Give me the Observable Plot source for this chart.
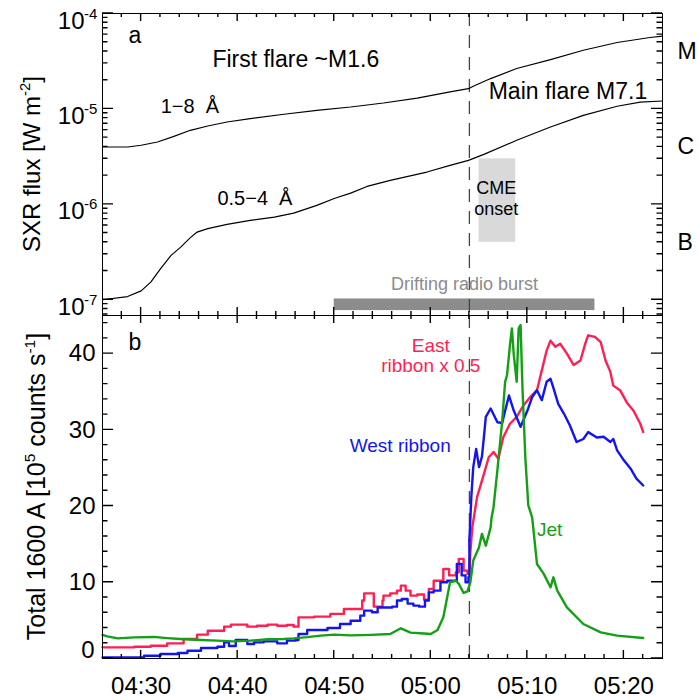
<!DOCTYPE html>
<html><head><meta charset="utf-8">
<script src="https://cdn.jsdelivr.net/npm/d3@7"></script>
<script src="https://cdn.jsdelivr.net/npm/@observablehq/plot@0.6"></script>
<style>
body{margin:0;background:#fff;}
#chart{width:698px;}
#chart svg{display:block;overflow:visible;}
</style></head><body><div id="chart"></div>
<script>
// ---- data (times in minutes after 04:00 UT) ----
const longT = [26.0, 28.6, 30.0, 31.7, 33.4, 35.1, 36.9, 38.9, 41.3, 44.8, 48.2, 51.7, 55.1, 58.6, 62.0, 63.9, 64.4, 66.2, 68.9, 72.4, 75.8, 79.3, 82.7, 84.0];
const longFlux = [3.99e-6, 3.99e-6, 4.16e-6, 4.5e-6, 5.16e-6, 5.97e-6, 6.62e-6, 7.29e-6, 7.92e-6, 8.79e-6, 9.66e-6, 1.047e-5, 1.153e-5, 1.30e-5, 1.51e-5, 1.63e-5, 1.73e-5, 2.08e-5, 2.65e-5, 3.29e-5, 4.12e-5, 4.97e-5, 5.60e-5, 5.78e-5];
const shortT = [26.0, 28.6, 30.0, 31.0, 32.0, 33.1, 34.1, 35.1, 35.8, 36.9, 38.9, 41.3, 43.8, 45.8, 48.2, 50.0, 51.7, 53.4, 55.8, 59.6, 62.0, 63.9, 65.5, 68.9, 72.4, 75.8, 79.3, 81.7, 84.0];
const shortFlux = [1.0e-7, 1.08e-7, 1.24e-7, 1.53e-7, 2.11e-7, 2.92e-7, 3.56e-7, 4.48e-7, 5.12e-7, 5.56e-7, 6.17e-7, 6.79e-7, 7.35e-7, 8.10e-7, 9.75e-7, 1.15e-6, 1.31e-6, 1.54e-6, 1.78e-6, 2.18e-6, 2.56e-6, 2.89e-6, 3.34e-6, 4.69e-6, 6.46e-6, 8.57e-6, 1.067e-5, 1.18e-5, 1.21e-5];

const eastT = [26.0, 29.3, 31.0, 32.7, 34.4, 35.8, 36.9, 38.6, 39.3, 40.6, 41.0, 42.0, 43.1, 44.1, 45.1, 45.8, 46.3, 47.9, 49.6, 51.0, 52.9, 53.1, 53.8, 54.1, 55.0, 55.1, 55.8, 56.5, 56.9, 57.4, 57.9, 58.6, 59.3, 59.8, 60.3, 61.3, 61.9, 62.6, 62.9, 63.4, 63.8, 64.0, 64.1, 64.3, 64.8, 65.5, 66.0, 66.5, 67.0, 67.5, 68.2, 68.9, 69.6, 70.3, 71.0, 71.5, 72.0, 72.4, 72.9, 73.4, 74.1, 74.8, 75.5, 76.0, 76.3, 77.0, 77.6, 78.1, 78.6, 78.9, 79.6, 80.3, 81.0, 81.7, 82.0];
const eastV = [1.46, 1.55, 1.68, 1.99, 2.56, 3.13, 3.65, 4.18, 4.44, 4.44, 4.18, 4.3, 4.44, 4.3, 4.4, 4.18, 5.4, 5.5, 5.85, 6.5, 7.6, 8.55, 8.55, 6.8, 7.6, 8.25, 8.55, 8.9, 9.56, 8.9, 8.25, 8.4, 7.72, 9.13, 10.2, 11.75, 10.9, 11.3, 13.07, 11.53, 11.1, 11.1, 14.0, 17.2, 21.2, 24.2, 26.4, 27.1, 26.2, 29.0, 30.8, 31.7, 33.2, 34.3, 35.2, 37.8, 40.4, 41.7, 40.9, 41.3, 40.0, 38.5, 39.1, 41.3, 42.4, 42.2, 41.5, 39.1, 37.6, 35.8, 35.2, 33.6, 32.5, 30.8, 29.7];

const westT = [26.0, 28.9, 30.3, 32.0, 33.8, 34.8, 36.2, 37.9, 38.6, 39.1, 39.8, 40.6, 41.0, 41.7, 42.7, 44.1, 45.1, 46.0, 46.3, 47.2, 48.2, 49.3, 50.6, 51.7, 52.7, 53.1, 53.9, 54.5, 56.0, 56.5, 57.0, 57.6, 58.2, 58.8, 59.4, 59.8, 60.3, 61.0, 61.7, 62.0, 62.7, 63.2, 63.6, 63.9, 64.0, 64.2, 64.4, 64.7, 65.0, 65.3, 65.5, 65.7, 66.2, 66.9, 67.4, 67.7, 68.1, 68.6, 69.3, 70.0, 70.5, 71.0, 71.5, 72.0, 72.4, 72.7, 73.2, 73.8, 74.4, 75.1, 75.8, 76.3, 77.2, 77.9, 78.6, 78.9, 79.3, 80.0, 80.7, 81.3, 82.0];
const westV = [0.15, 0.15, 0.37, 0.59, 0.72, 1.02, 1.38, 1.55, 2.12, 1.64, 2.43, 2.43, 1.9, 2.12, 2.25, 1.99, 2.34, 2.43, 3.21, 3.74, 3.74, 4.0, 4.53, 4.96, 5.62, 6.28, 6.06, 6.7, 6.8, 7.6, 7.8, 7.2, 6.94, 6.8, 7.6, 8.68, 8.9, 10.0, 10.2, 10.2, 12.4, 10.9, 10.0, 10.65, 15.5, 21.2, 25.1, 27.5, 25.1, 26.5, 29.0, 31.7, 32.8, 31.0, 30.9, 32.5, 34.5, 32.5, 30.4, 32.5, 34.3, 35.2, 33.9, 36.3, 36.7, 35.5, 33.4, 32.1, 30.6, 28.4, 28.8, 29.7, 29.0, 29.1, 28.4, 28.8, 27.3, 26.0, 24.9, 23.6, 22.7];

const jetT = [26.0, 26.5, 27.6, 29.3, 31.3, 32.7, 34.1, 36.2, 37.9, 39.6, 41.3, 43.1, 44.8, 45.8, 47.2, 48.6, 50.0, 51.7, 53.8, 55.8, 56.9, 57.9, 59.3, 60.0, 60.7, 61.3, 61.7, 62.0, 62.6, 62.9, 63.4, 63.8, 64.1, 64.4, 65.0, 65.3, 65.7, 66.2, 66.3, 66.5, 66.9, 67.4, 67.7, 67.9, 68.2, 68.4, 68.6, 68.9, 69.1, 69.3, 69.5, 69.8, 70.1, 70.5, 71.0, 71.7, 72.4, 72.7, 73.1, 74.1, 75.8, 77.6, 79.3, 82.0];
const jetV = [3.1, 2.9, 2.64, 2.77, 2.83, 2.68, 2.56, 2.43, 2.34, 2.25, 2.34, 2.52, 2.56, 2.64, 2.8, 3.0, 3.13, 3.04, 3.1, 3.21, 3.96, 3.4, 3.28, 3.21, 3.74, 5.4, 8.03, 10.0, 10.2, 9.8, 8.6, 8.8, 10.0, 12.85, 14.6, 16.35, 14.8, 17.2, 18.5, 19.85, 24.7, 31.2, 36.3, 37.2, 41.1, 43.3, 39.8, 36.3, 43.3, 43.75, 35.4, 26.2, 20.1, 18.5, 12.4, 11.1, 9.34, 10.65, 8.9, 6.7, 4.53, 3.43, 3.0, 2.69];

const onsetTime = [64.0];
const cmeSpan = [65.0, 68.8];
const cmeFlux = [4e-7, 3e-6];
const radioSpan = [50.0, 77.0];
const radioFlux = [7.7e-8, 1.02e-7];

const timeDomain = [26, 84];
const xMajor = [30, 40, 50, 60, 70, 80];
const xMinor = [28, 32, 34, 36, 38, 42, 44, 46, 48, 52, 54, 56, 58, 62, 64, 66, 68, 72, 74, 76, 78, 82];
const logMajor = [1e-7, 1e-6, 1e-5, 1e-4];
const logExp = ["-7", "-6", "-5", "-4"];
const logMinor = [7e-8, 8e-8, 9e-8, 2e-7, 3e-7, 4e-7, 5e-7, 6e-7, 7e-7, 8e-7, 9e-7, 2e-6, 3e-6, 4e-6, 5e-6, 6e-6, 7e-6, 8e-6, 9e-6, 2e-5, 3e-5, 4e-5, 5e-5, 6e-5, 7e-5, 8e-5, 9e-5];
const fluxDomain = [6.84e-8, 1e-4];
const goesClasses = ["M", "C", "B"];
const goesClassPos = [4e-5, 4e-6, 4e-7];
const linMajor = [0, 10, 20, 30, 40];
const linMinor = [2, 4, 6, 8, 12, 14, 16, 18, 22, 24, 26, 28, 32, 34, 36, 38, 42, 44];
const countDomain = [0, 45];
const topTitle = [["SXR flux [W m", false], ["-2", true], ["]", false]];
const bottomTitle = [["Total 1600 A [10", false], ["5", true], [" counts s", false], ["-1", true], ["]", false]];

// ---- helpers ----
const FONT = "'Liberation Sans', Arial, Helvetica, sans-serif";
const base = Date.UTC(2013, 3, 11, 4, 0, 0);
const at = (m) => new Date(base + m * 60000);
const fmt = d3.utcFormat("%H:%M");
const zip = (T, V) => T.map((t, i) => ({m: t, t: at(t), v: V[i]}));
const W = 698, ML = 102, MR = 36;

function yTitle(parts, bx, fs) {
  return (index, scales, values, dims) => {
    const cy = dims.marginTop + (dims.height - dims.marginTop - dims.marginBottom) / 2;
    const t = d3.create("svg:text")
      .attr("transform", `translate(${bx},${cy}) rotate(-90)`)
      .attr("text-anchor", "middle").attr("font-size", fs)
      .attr("font-family", FONT).attr("fill", "black");
    let up = false;
    for (const [s, sup] of parts) {
      const sp = t.append("tspan").text(s);
      if (sup && !up) { sp.attr("font-size", fs * 0.62).attr("dy", -fs * 0.42); up = true; }
      else if (!sup && up) { sp.attr("dy", fs * 0.42); up = false; }
    }
    return t.node();
  };
}

// inward ticks on all four sides, positioned through Plot's own scales
function frameTicks(yMaj, yMin) {
  return (index, scales, values, dims) => {
    const {width, height, marginLeft, marginRight, marginTop, marginBottom} = dims;
    const x0 = marginLeft, x1 = width - marginRight;
    const y0 = marginTop, y1 = height - marginBottom;
    const g = d3.create("svg:g");
    let d = "";
    for (const [vals, len] of [[xMajor, 8], [xMinor, 4]]) {
      for (const m of vals) {
        const px = scales.x(at(m));
        d += `M${px},${y1}V${y1 - len}M${px},${y0}V${y0 + len}`;
      }
    }
    for (const [vals, len] of [[yMaj, 11], [yMin, 5.5]]) {
      for (const v of vals) {
        const py = scales.y(v);
        d += `M${x0},${py}H${x0 + len}M${x1},${py}H${x1 - len}`;
      }
    }
    g.append("path").attr("d", d).attr("fill", "none").attr("stroke", "black").attr("stroke-width", 1.4);
    return g.node();
  };
}
const note = (txt, m, y, o = {}) =>
  Plot.text([txt], {x: () => at(m), y: () => y, text: d => d, lineAnchor: "bottom", textAnchor: "start", fontSize: 23, fill: "black", ...o});

const style = {fontFamily: FONT, background: "white", color: "black", overflow: "visible"};

// ---- top panel ----
const topPlot = Plot.plot({
  width: W, height: 315, marginLeft: ML, marginRight: MR, marginTop: 13, marginBottom: 0,
  style,
  x: {type: "utc", domain: timeDomain.map(at), axis: null},
  y: {type: "log", domain: fluxDomain, axis: null},
  marks: [
    Plot.rect([0], {x1: () => at(cmeSpan[0]), x2: () => at(cmeSpan[1]), y1: () => cmeFlux[0], y2: () => cmeFlux[1], fill: "#d9d9d9"}),
    Plot.rect([0], {x1: () => at(radioSpan[0]), x2: () => at(radioSpan[1]), y1: () => radioFlux[0], y2: () => radioFlux[1], fill: "#8c8c8c"}),
    Plot.ruleX(onsetTime.map(at), {x: d => d, stroke: "#444", strokeWidth: 1.3, strokeDasharray: "13,9"}),
    Plot.line(zip(longT, longFlux), {x: "t", y: "v", stroke: "black", strokeWidth: 1.2}),
    Plot.line(zip(shortT, shortFlux), {x: "t", y: "v", stroke: "black", strokeWidth: 1.2}),
    note("a", 28.7, 4.88e-5),
    note("First flare ~M1.6", 37.38, 2.75e-5),
    note("Main flare M7.1", 66.0, 1.28e-5),
    note("1\u22128\u00a0\u00a0Å", 32.03, 9.05e-6, {fontSize: 20}),
    note("0.5\u22124\u00a0\u00a0Å", 37.9, 9.75e-7, {fontSize: 20}),
    note("CME\nonset", 66.79, 7.7e-7, {fontSize: 18, textAnchor: "middle", lineHeight: 1.15}),
    note("Drifting radio burst", (radioSpan[0] + radioSpan[1]) / 2, 1.26e-7, {fontSize: 18, textAnchor: "middle", fill: "#8c8c8c"}),
    frameTicks(logMajor, logMinor),
    Plot.text(logMajor, {y: d => d, frameAnchor: "left", text: () => "10", textAnchor: "end", dx: -18, dy: 15, lineAnchor: "bottom", fontSize: 24, fill: "black"}),
    Plot.text(logMajor, {y: d => d, frameAnchor: "left", text: (d, i) => logExp[i], textAnchor: "start", dx: -18.5, dy: 5, lineAnchor: "bottom", fontSize: 15, fill: "black"}),
    Plot.text(goesClasses, {y: (d, i) => goesClassPos[i], frameAnchor: "right", text: d => d, textAnchor: "start", dx: 15, lineAnchor: "middle", fontSize: 23, fill: "black"}),
    yTitle(topTitle, 40, 24),
    Plot.frame({stroke: "black"})
  ]
});

// ---- bottom panel ----
const early = (d) => d.m <= 64.0;
const late = (d) => d.m >= 64.0;
const bottomPlot = Plot.plot({
  width: W, height: 385, marginLeft: ML, marginRight: MR, marginTop: 0, marginBottom: 42,
  style,
  x: {type: "utc", domain: timeDomain.map(at), axis: null},
  y: {domain: countDomain, axis: null},
  marks: [
    Plot.ruleX(onsetTime.map(at), {x: d => d, stroke: "#444", strokeWidth: 1.3, strokeDasharray: "13,9"}),
    Plot.line(zip(eastT, eastV).filter(early), {x: "t", y: "v", stroke: "#ff1f55", strokeWidth: 2.4, curve: "step-after"}),
    Plot.line(zip(eastT, eastV).filter(late), {x: "t", y: "v", stroke: "#ff1f55", strokeWidth: 2.4}),
    Plot.line(zip(westT, westV).filter(early), {x: "t", y: "v", stroke: "#1414f0", strokeWidth: 2.4, curve: "step-after"}),
    Plot.line(zip(westT, westV).filter(late), {x: "t", y: "v", stroke: "#1414f0", strokeWidth: 2.4}),
    Plot.line(zip(jetT, jetV), {x: "t", y: "v", stroke: "#14a014", strokeWidth: 2.4}),
    note("b", 28.7, 40.5),
    note("East\nribbon x 0.5", 60.0, 37.6, {fontSize: 19, textAnchor: "middle", lineHeight: 1.05, fill: "#ff1f55"}),
    note("West ribbon", 51.6, 27.07, {fontSize: 19, fill: "#1414f0"}),
    note("Jet", 71.0, 16.13, {fontSize: 19, fill: "#14a014"}),
    frameTicks(linMajor, linMinor),
    Plot.text(linMajor.slice(1), {y: d => d, frameAnchor: "left", text: d => String(d), textAnchor: "end", dx: -7, lineAnchor: "middle", fontSize: 24, fill: "black"}),
    Plot.text(linMajor.slice(0, 1), {y: d => d, frameAnchor: "left", text: d => String(d), textAnchor: "end", dx: -8, dy: -1, lineAnchor: "bottom", fontSize: 24, fill: "black"}),
    Plot.text(xMajor.map(at), {x: d => d, frameAnchor: "bottom", text: d => fmt(d), textAnchor: "middle", dy: 35, lineAnchor: "bottom", fontSize: 24, fill: "black"}),
    yTitle(bottomTitle, 45, 25),
    Plot.frame({stroke: "black"})
  ]
});

const root = document.getElementById("chart");
root.append(topPlot, bottomPlot);
</script>
</body></html>
